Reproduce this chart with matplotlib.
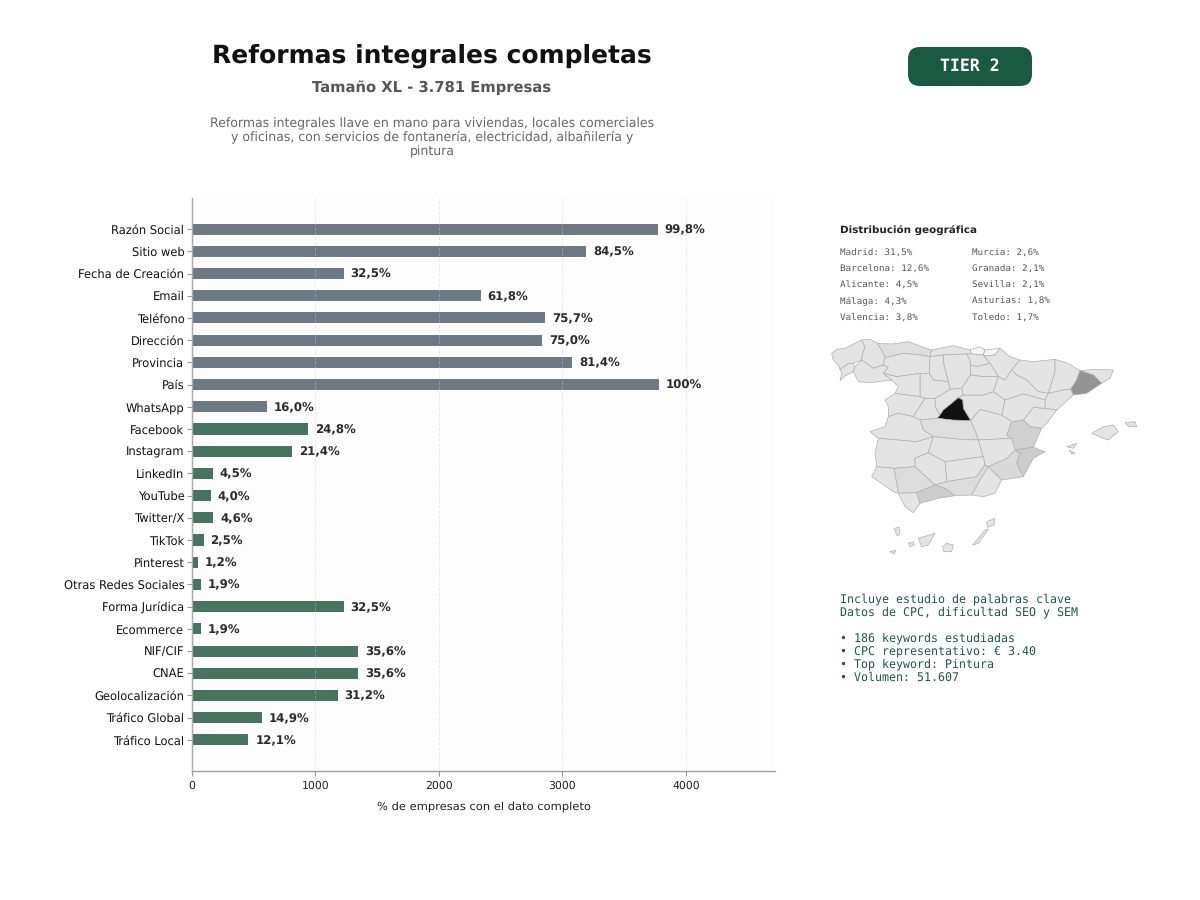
import matplotlib
matplotlib.use('Agg')
import matplotlib.pyplot as plt
from matplotlib.patches import FancyBboxPatch, Polygon

plt.rcParams['text.hinting'] = 'no_hinting'

campos = ['Razón Social', 'Sitio web', 'Fecha de Creación', 'Email', 'Teléfono', 'Dirección',
          'Provincia', 'País', 'WhatsApp', 'Facebook', 'Instagram', 'LinkedIn', 'YouTube',
          'Twitter/X', 'TikTok', 'Pinterest', 'Otras Redes Sociales', 'Forma Jurídica',
          'Ecommerce', 'NIF/CIF', 'CNAE', 'Geolocalización', 'Tráfico Global', 'Tráfico Local']
empresas = [3773, 3195, 1229, 2337, 2862, 2836, 3078, 3781, 605, 938, 809, 170, 151, 174,
            95, 45, 72, 1229, 72, 1346, 1346, 1180, 563, 457]
etiquetas = ['99,8%', '84,5%', '32,5%', '61,8%', '75,7%', '75,0%', '81,4%', '100%', '16,0%',
             '24,8%', '21,4%', '4,5%', '4,0%', '4,6%', '2,5%', '1,2%', '1,9%', '32,5%', '1,9%',
             '35,6%', '35,6%', '31,2%', '14,9%', '12,1%']
n_gris = 9  # los basicos van en gris, el resto en verde

descripcion = ['Reformas integrales llave en mano para viviendas, locales comerciales',
               'y oficinas, con servicios de fontanería, electricidad, albañilería y',
               'pintura']
geo_col1 = ['Madrid: 31,5%', 'Barcelona: 12,6%', 'Alicante: 4,5%', 'Málaga: 4,3%', 'Valencia: 3,8%']
geo_col2 = ['Murcia: 2,6%', 'Granada: 2,1%', 'Sevilla: 2,1%', 'Asturias: 1,8%', 'Toledo: 1,7%']
keywords = ['Incluye estudio de palabras clave', 'Datos de CPC, dificultad SEO y SEM', '',
            '• 186 keywords estudiadas', '• CPC representativo: € 3.40',
            '• Top keyword: Pintura', '• Volumen: 51.607']

# cuota por provincia, las que no salen aqui van con 1%
cuotas = {'Madrid': 31.5, 'Barcelona': 12.6, 'Alicante': 4.5, 'Malaga': 4.3, 'Valencia': 3.8,
          'Murcia': 2.6, 'Granada': 2.1, 'Sevilla': 2.1, 'Asturias': 1.8, 'Toledo': 1.7}
palidas = ['Vizcaya', 'Guipuzcoa']

# contornos simplificados
provincias = {
    'Coruna': [(35,70),(50,58),(75,55),(100,42),(125,30),(135,50),(128,72),(125,90),(100,100),(85,100),(60,118),(55,105),(40,90)],
    'Lugo': [(125,30),(150,28),(172,40),(185,60),(195,80),(190,105),(160,115),(125,90),(128,72),(135,50)],
    'Pontevedra': [(60,118),(85,100),(100,100),(105,110),(100,125),(75,138),(60,152),(65,130)],
    'Ourense': [(100,125),(105,110),(125,90),(160,115),(190,105),(205,112),(190,130),(215,150),(150,158),(115,155)],
    'Asturias': [(172,40),(215,42),(265,35),(300,48),(335,60),(330,80),(300,75),(250,70),(200,82),(195,80),(185,60)],
    'Cantabria': [(335,60),(400,47),(450,60),(455,72),(440,72),(370,75),(330,80)],
    'Leon': [(195,80),(200,82),(250,70),(300,75),(330,80),(328,130),(300,130),(230,140),(190,130),(205,112),(190,105)],
    'Palencia': [(330,80),(370,75),(372,105),(385,155),(340,150),(328,130)],
    'Burgos': [(370,75),(440,72),(450,90),(452,135),(425,175),(390,178),(385,155),(372,105)],
    'Vizcaya': [(450,60),(480,50),(495,60),(490,75),(455,72)],
    'Guipuzcoa': [(495,60),(540,55),(525,75),(495,78),(490,75)],
    'Alava': [(450,90),(440,72),(455,72),(490,75),(510,100),(470,110),(452,105)],
    'Navarra': [(525,75),(540,55),(570,80),(600,90),(575,120),(555,150),(535,140),(510,100),(490,75),(495,78)],
    'Rioja': [(452,105),(470,110),(510,100),(535,140),(490,140),(452,135)],
    'Huesca': [(600,90),(640,95),(705,88),(705,125),(685,190),(655,185),(620,150),(590,135),(575,120)],
    'Zaragoza': [(575,120),(590,135),(620,150),(655,185),(685,190),(675,210),(610,192),(555,210),(520,185),(535,140),(555,150)],
    'Lleida': [(705,88),(745,100),(780,122),(770,150),(752,178),(730,180),(685,190),(705,125)],
    'Girona': [(780,122),(825,118),(880,120),(870,145),(845,160),(820,135)],
    'Barcelona': [(780,122),(820,135),(845,160),(800,190),(760,195),(752,178),(770,150)],
    'Tarragona': [(752,178),(760,195),(710,240),(675,235),(675,210),(685,190),(730,180)],
    'Castellon': [(675,235),(710,240),(680,280),(665,295),(630,290),(610,270),(640,232)],
    'Valencia': [(575,275),(610,270),(630,290),(665,295),(640,352),(585,360),(575,325),(560,315)],
    'Alicante': [(640,352),(675,365),(640,385),(610,440),(590,400),(600,370),(585,360)],
    'Murcia': [(585,360),(600,370),(590,400),(610,440),(545,450),(505,410),(560,385)],
    'Teruel': [(555,210),(610,192),(675,210),(675,235),(640,232),(610,270),(575,275),(545,255)],
    'Cuenca': [(452,272),(480,238),(545,255),(575,275),(560,315),(575,325),(475,330),(470,315)],
    'Guadalajara': [(430,195),(490,195),(520,185),(555,210),(545,255),(480,238),(452,272),(430,235),(428,210),(415,203)],
    'Soria': [(425,175),(452,135),(490,140),(535,140),(520,185),(490,195),(430,195)],
    'Segovia': [(345,205),(390,178),(425,175),(430,195),(415,203),(395,220),(370,240),(360,255),(345,230)],
    'Valladolid': [(300,130),(328,130),(340,150),(385,155),(390,178),(345,205),(315,205),(300,200)],
    'Zamora': [(190,130),(230,140),(300,130),(300,200),(225,190),(235,170),(215,150)],
    'Salamanca': [(195,210),(225,190),(300,200),(315,205),(280,260),(235,250),(205,260),(205,230)],
    'Avila': [(315,205),(345,205),(345,230),(360,255),(352,265),(300,270),(280,260)],
    'Madrid': [(415,203),(428,210),(430,235),(452,272),(410,275),(395,270),(352,265),(360,255),(370,240),(395,220)],
    'Toledo': [(300,270),(352,265),(395,270),(452,272),(470,315),(475,330),(420,328),(340,320),(310,300)],
    'Caceres': [(205,260),(235,250),(280,260),(300,270),(310,300),(340,320),(290,335),(175,325),(150,305),(195,290)],
    'Badajoz': [(175,325),(290,335),(340,320),(325,368),(285,385),(285,410),(222,415),(170,410),(165,370)],
    'CiudadReal': [(340,320),(420,328),(475,330),(490,380),(375,395),(325,368)],
    'Albacete': [(475,330),(575,325),(585,360),(560,385),(505,410),(495,405),(490,380)],
    'Jaen': [(375,395),(490,380),(495,405),(470,440),(380,455)],
    'Cordoba': [(285,385),(325,368),(375,395),(380,455),(345,465),(285,410)],
    'Sevilla': [(222,415),(285,410),(345,465),(290,488),(235,490)],
    'Huelva': [(170,410),(222,415),(235,490),(220,485),(155,440)],
    'Cadiz': [(235,490),(290,488),(300,520),(280,548),(255,530)],
    'Malaga': [(290,488),(345,465),(375,475),(405,497),(355,505),(300,520)],
    'Granada': [(380,455),(470,440),(495,405),(505,410),(480,450),(455,495),(405,497),(375,475),(345,465)],
    'Almeria': [(505,410),(545,450),(525,490),(490,500),(455,495),(480,450)],
    'Mallorca': [(815,310),(850,290),(880,285),(895,305),(865,330),(850,325)],
    'Menorca': [(915,278),(945,275),(950,290),(925,290)],
    'Ibiza': [(740,350),(770,340),(760,355)],
    'Formentera': [(748,360),(765,370),(755,372)],
    'Tenerife': [(295,625),(345,610),(325,645),(305,650)],
    'GranCanaria': [(380,640),(400,645),(395,665),(372,665),(368,650)],
    'Fuerteventura': [(495,600),(505,598),(475,640),(458,645)],
    'Lanzarote': [(500,575),(525,565),(522,585),(503,592)],
    'LaPalma': [(222,595),(238,592),(240,610),(232,618)],
    'Gomera': [(265,640),(280,635),(283,645),(270,650)],
    'Hierro': [(210,665),(228,660),(222,672)],
}

fig = plt.figure(figsize=(12, 9), dpi=100)


def px(x, y):
    return x / 1200, 1 - y / 900


# cabecera
fig.text(*px(431.5, 56), 'Reformas integrales completas', fontsize=18, fontweight='bold',
         color='#111111', ha='center', va='center')
fig.text(*px(432, 87.5), 'Tamaño XL - 3.781 Empresas', fontsize=10.6, fontweight='bold',
         color='#555555', ha='center', va='center')
for i, linea in enumerate(descripcion):
    fig.text(*px(432, 122 + i * 14), linea, fontsize=9, color='#666666', ha='center',
             va='center_baseline')

# barras
ax = fig.add_axes([192 / 1200, 1 - 771 / 900, 583 / 1200, 573 / 900])
ax.set_facecolor('#fdfdfd')
pos = list(range(len(campos)))
colores = ['#6c7a86' if i < n_gris else '#47745f' for i in pos]
ax.barh(pos, empresas, height=0.5, color=colores)
for i in pos:
    ax.text(empresas[i] + 55, i + 0.04, etiquetas[i], va='center', ha='left', fontsize=8.5,
            fontweight='bold', color='#2b2b2b')
ax.set_yticks(pos)
ax.set_yticklabels(campos, fontsize=8.3, color='#111111')
ax.set_xticks([0, 1000, 2000, 3000, 4000])
ax.tick_params(axis='x', labelsize=7.8, color='#999999', labelcolor='#222222')
ax.tick_params(axis='y', color='#999999', length=3.5, pad=2)
ax.set_xlim(0, 4722)
ax.set_ylim(24.4, -1.4)
ax.set_xlabel('% de empresas con el dato completo', fontsize=8.25, labelpad=7.5, color='#222222')
ax.grid(axis='x', linestyle='--', color='#cccccc', alpha=0.4, linewidth=0.7)
ax.set_axisbelow(False)
ax.spines['top'].set_visible(False)
ax.spines['right'].set_visible(False)
ax.spines['left'].set_color('#a0a0a0')
ax.spines['bottom'].set_color('#a0a0a0')
ax.spines['left'].set_linewidth(1.0)
ax.spines['bottom'].set_linewidth(1.0)

# etiqueta tier
fondo = fig.add_axes([0, 0, 1, 1], zorder=-1)
fondo.set_xlim(0, 1200)
fondo.set_ylim(900, 0)
fondo.axis('off')
fondo.add_patch(FancyBboxPatch((920, 59), 100, 15, boxstyle='round,pad=12,rounding_size=12',
                               facecolor='#1b5a42', edgecolor='none'))
fig.text(*px(970, 66), 'TIER 2', fontsize=11.9, fontweight='bold', family='DejaVu Sans Mono',
         color='white', ha='center', va='center')

# distribucion geografica
fig.text(*px(840, 230), 'Distribución geográfica', fontsize=7.5, fontweight='bold',
         color='#222222', ha='left', va='center')
for i in range(len(geo_col1)):
    fig.text(*px(840, 253 + i * 16.2), geo_col1[i], fontsize=6.7, family='DejaVu Sans Mono',
             color='#555555', ha='left', va='center')
    fig.text(*px(971.5, 253 + i * 16.2), geo_col2[i], fontsize=6.7, family='DejaVu Sans Mono',
             color='#555555', ha='left', va='center')

# mapa
mapa = fig.add_axes([820 / 1200, 1 - 560 / 900, 330 / 1200, 230 / 900])
mapa.set_xlim(0, 990)
mapa.set_ylim(690, 0)
mapa.axis('off')
for nombre, contorno in provincias.items():
    gris = 0.92 - 0.027 * cuotas.get(nombre, 1.0)
    if nombre in palidas:
        gris = 0.96
    mapa.add_patch(Polygon(contorno, closed=True, facecolor=str(gris), edgecolor='#b0b0b0',
                           linewidth=0.5, joinstyle='round'))

# bloque de keywords
for i, linea in enumerate(keywords):
    fig.text(*px(840, 599.5 + i * 13), linea, fontsize=8.35, family='DejaVu Sans Mono',
             color='#1b5a42', ha='left', va='center')

fig.savefig('out.png', dpi=100, facecolor='white')
